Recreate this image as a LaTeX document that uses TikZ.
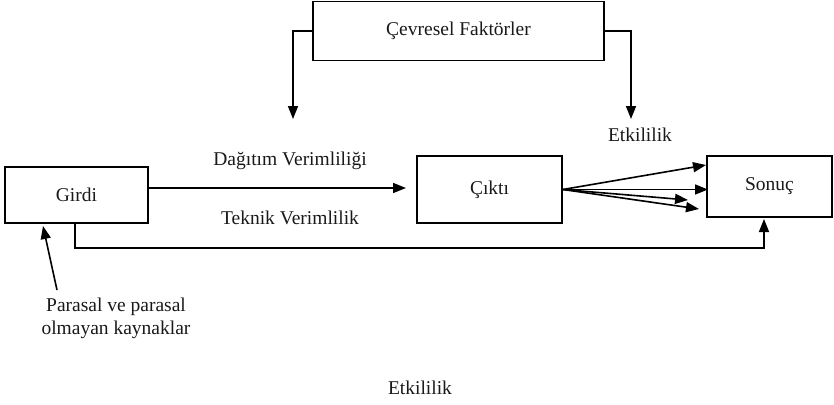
\documentclass[tikz,border=0pt]{standalone}
\usepackage{fontspec}
\setmainfont{Liberation Serif}
\usetikzlibrary{arrows.meta}
\begin{document}
\begin{tikzpicture}[x=1pt,y=-1pt,
  every node/.style={font=\fontsize{19.5}{23}\selectfont, text=black!90},
  box/.style={draw, line width=1.6pt, inner sep=0pt},
  conn/.style={line width=1.6pt, -{Triangle[length=13pt,width=10pt]}}]
\useasboundingbox (0,0) rectangle (834,404);
\node[box, minimum width=291pt, minimum height=59pt] (cevre) at (458.5,31) {Çevresel Faktörler};
\node[box, minimum width=143pt, minimum height=56pt] (girdi) at (76.5,195) {Girdi};
\node[box, minimum width=145pt, minimum height=67pt] (cikti) at (489.5,189.5) {Çıktı};
\node[box, minimum width=125pt, minimum height=61pt] (sonuc) at (769.5,186.5) {Sonuç};
\node (etk1) at (640,135) {Etkililik};
\node (etk2) at (420,388) {Etkililik};
\node (dag) at (290,161) {Dağıtım Verimliliği};
\node (tek) at (290,218) {Teknik Verimlilik};
\node[align=center] (par) at (116,318) {Parasal ve parasal\\olmayan kaynaklar};
\coordinate (tl) at (293,119);
\coordinate (tr) at (631,119);
\coordinate (ct) at (406,188);
\coordinate (bl) at (75,248);
\coordinate (br) at (764,219);
\coordinate (f1) at (706,165);
\coordinate (f2) at (708,189.5);
\coordinate (f3) at (688,200);
\coordinate (f4) at (699,209);
\coordinate (pa) at (57,290);
\coordinate (pt) at (43,226);
\draw[conn] (cevre.west) -| (tl);
\draw[conn] (cevre.east) -| (tr);
\draw[conn] (girdi.east |- ct) -- (ct);
\draw[conn] (girdi.south -| bl) -- (bl) -| (br);
\draw[conn] (cikti.east) -- (f1);
\draw[conn] (cikti.east) -- (f2);
\draw[conn] (cikti.east) -- (f3);
\draw[conn] (cikti.east) -- (f4);
\draw[conn] (pa) -- (pt);
\end{tikzpicture}
\end{document}
